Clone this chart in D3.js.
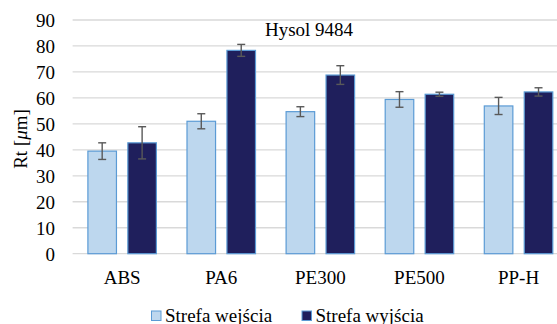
<!DOCTYPE html>
<html><head><meta charset="utf-8">
<script src="https://cdn.jsdelivr.net/npm/d3@7"></script>
<style>body{margin:0;background:#fff;overflow:hidden}</style>
</head><body>
<svg id="c" width="557" height="324"></svg>
<script>
const categories = ["ABS", "PA6", "PE300", "PE500", "PP-H"];
const seriesNames = ["Strefa wejścia", "Strefa wyjścia"];
const entryValues = [39.5, 51.0, 54.7, 59.4, 56.9];
const entryErrors = [3.2, 2.9, 1.9, 3.0, 3.3];
const exitValues = [42.7, 78.3, 68.8, 61.4, 62.3];
const exitErrors = [6.2, 2.3, 3.6, 0.8, 1.6];
const yTicks = [0, 10, 20, 30, 40, 50, 60, 70, 80, 90];
const title = "Hysol 9484";

const svg = d3.select("#c");
const FONT = '"Liberation Serif", "Times New Roman", serif';
const FS = 19;
const fills = ["#BDD7EE", "#1F1F5C"];
const strokes = ["#5B9BD5", "#5B9BD5"];

const y = d3.scaleLinear().domain([0, 90]).range([253.7, 20]);
const x0 = d3.scaleBand().domain(categories).range([72.6, 568.1]).paddingInner(0).paddingOuter(0);
const x1 = d3.scaleBand().domain(seriesNames).range([14.8, x0.bandwidth() - 14.8]).paddingInner(0.26).paddingOuter(0);

// gridlines
svg.append("g").selectAll("line").data(yTicks).join("line")
  .attr("x1", 72.6).attr("x2", 557)
  .attr("y1", d => y(d)).attr("y2", d => y(d))
  .attr("stroke", "#D9D9D9").attr("stroke-width", 1.3);

// y axis labels
const yAxis = d3.axisLeft(y).tickValues(yTicks).tickSize(0).tickPadding(0);
const ga = svg.append("g").attr("transform", "translate(55,0)").call(yAxis);
ga.select(".domain").remove();
ga.selectAll("text").style("font-family", FONT).style("font-size", FS + "px").attr("fill", "#000").attr("dy", "0.34em");

// x axis labels
const xAxis = d3.axisBottom(x0).tickSize(0).tickPadding(0);
const gx = svg.append("g").attr("transform", "translate(0,284)").call(xAxis);
gx.select(".domain").remove();
gx.selectAll("text").style("font-family", FONT).style("font-size", FS + "px").attr("fill", "#000").attr("dy", "0");

const data = categories.map((c, i) => ({
  cat: c,
  vals: [
    {s: seriesNames[0], v: entryValues[i], e: entryErrors[i], k: 0},
    {s: seriesNames[1], v: exitValues[i], e: exitErrors[i], k: 1}
  ]
}));

const groups = svg.append("g").selectAll("g").data(data).join("g")
  .attr("transform", d => `translate(${x0(d.cat)},0)`);

groups.selectAll("rect").data(d => d.vals).join("rect")
  .attr("x", d => x1(d.s) + 0.5)
  .attr("width", x1.bandwidth() - 1)
  .attr("y", d => y(d.v))
  .attr("height", d => y(0) - y(d.v))
  .attr("fill", d => fills[d.k])
  .attr("stroke", d => strokes[d.k])
  .attr("stroke-width", 1.2);

// error bars
const eb = groups.selectAll("g.err").data(d => d.vals).join("g").attr("class", "err")
  .attr("stroke", "#595959").attr("stroke-width", 1.4);
eb.append("line")
  .attr("x1", d => x1(d.s) + x1.bandwidth() / 2).attr("x2", d => x1(d.s) + x1.bandwidth() / 2)
  .attr("y1", d => y(d.v + d.e)).attr("y2", d => y(d.v - d.e));
eb.append("line")
  .attr("x1", d => x1(d.s) + x1.bandwidth() / 2 - 4).attr("x2", d => x1(d.s) + x1.bandwidth() / 2 + 4)
  .attr("y1", d => y(d.v + d.e)).attr("y2", d => y(d.v + d.e));
eb.append("line")
  .attr("x1", d => x1(d.s) + x1.bandwidth() / 2 - 4).attr("x2", d => x1(d.s) + x1.bandwidth() / 2 + 4)
  .attr("y1", d => y(d.v - d.e)).attr("y2", d => y(d.v - d.e));

// title
svg.append("text").attr("x", 309).attr("y", 35.5).attr("text-anchor", "middle")
  .style("font-family", FONT).style("font-size", FS + "px").attr("fill", "#000").text(title);

// y axis title
const yt = svg.append("text").attr("transform", "translate(27,139) rotate(-90)")
  .attr("text-anchor", "middle").style("font-family", FONT).style("font-size", FS + "px").attr("fill", "#000");
yt.append("tspan").text("Rt [");
yt.append("tspan").style("font-style", "italic").text("μ");
yt.append("tspan").text("m]");

// legend
const legX = [151, 301.5];
const leg = svg.append("g").selectAll("g").data(seriesNames).join("g")
  .attr("transform", (d, i) => `translate(${legX[i]},310.5)`);
leg.append("rect").attr("x", 0.5).attr("y", 0.5).attr("width", 9.5).attr("height", 9.5)
  .attr("fill", (d, i) => fills[i]).attr("stroke", (d, i) => strokes[i]).attr("stroke-width", 1);
leg.append("text").attr("x", 14).attr("y", 11).style("font-family", FONT).style("font-size", FS + "px")
  .attr("fill", "#000").text(d => d);
</script>
</body></html>
